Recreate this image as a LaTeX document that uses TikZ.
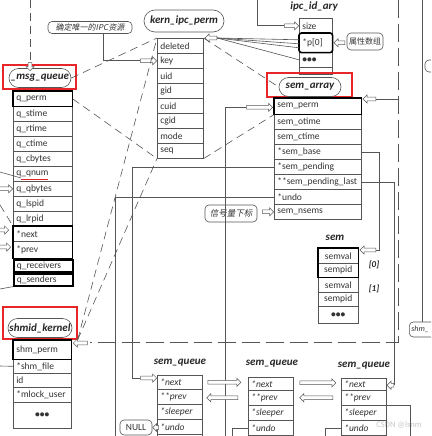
\documentclass[tikz,border=0pt]{standalone}
\usepackage{fontspec}
\setmainfont{Carlito}
\newfontfamily\cjk{Noto Sans CJK SC}
\newfontfamily\cjkit[FakeSlant=0.2]{Noto Sans CJK SC}
\usetikzlibrary{shapes.arrows,shapes.misc,calc}
\definecolor{linec}{HTML}{555555}
\definecolor{txtc}{HTML}{333333}
\definecolor{redc}{HTML}{E8262A}
\definecolor{wmc}{HTML}{C8C8C8}
\newcommand\rowfnt{\fontsize{9.5}{11}\selectfont}
\newcommand\labfnt{\fontsize{11}{12}\selectfont\bfseries\itshape}
\begin{document}
\begin{tikzpicture}[x=1pt,y=-1pt,line width=0.6pt,draw=linec,
  rowb/.style={draw=linec,anchor=north west,inner xsep=3pt,inner ysep=0pt,minimum height=15pt,align=left,text=txtc,font=\rowfnt},
  mq/.style={rowb,text width=53pt},
  kp/.style={rowb,text width=40pt},
  ia/.style={rowb,text width=27pt},
  sa/.style={rowb,text width=81pt},
  se/.style={rowb,text width=34pt,align=center},
  sk/.style={rowb,text width=52pt},
  sq/.style={rowb,text width=39pt,font=\rowfnt\itshape},
  thickb/.style={draw=black,line width=1.6pt},
  redbox/.style={draw=redc,line width=1.2pt},
  cloudl/.style={rounded rectangle,draw=linec,font=\labfnt,text=black!85,inner sep=1pt,minimum height=19pt},
  plainl/.style={font=\labfnt,text=black!85,inner sep=0pt},
  callout/.style={draw=linec,rounded corners=4pt,inner sep=1pt,text=txtc},
  harr/.style={single arrow,draw=linec,fill=white,inner xsep=0pt,inner ysep=1.6pt,single arrow head extend=2.2pt,single arrow tip angle=90,minimum height=#1,line width=0.5pt},
  dsh/.style={dash pattern=on 8pt off 5pt},
  bigdash/.style={dash pattern=on 18pt off 6pt,line width=0.8pt}
]
\clip (0,0) rectangle (431,436);
\fill[white] (0,0) rectangle (431,436);

% ---------- long connectors (drawn first) ----------
\draw[bigdash] (398,0) -- (398,342) -- (90,342);
\coordinate (rt) at (422,0);
\coordinate (ub) at (115,436);
\coordinate (vb) at (225,436);
\node[text=wmc,font=\fontsize{8.5}{9}\selectfont,inner sep=0pt] (wm) at (399,425) {CSDN @lsnm};

% ---------- msg_queue ----------
\draw[redbox] (3,65) rectangle (76,89);
\node[cloudl,minimum width=64pt] (mqc) at (40,78) {\_msg\_queue};
\foreach \lbl [count=\i from 0] in {q\_perm,q\_stime,q\_rtime,q\_ctime,q\_cbytes,q\_qnum,q\_qbytes,q\_lspid,q\_lrpid}
  \node[mq] (mq\i) at (13,{91+15*\i}) {\lbl};
\node[mq] (mq9) at (13,226) {*next};
\node[mq,minimum height=17pt] (mq10) at (13,241) {*prev};
\node[mq,minimum height=12pt,thickb] (mq11) at (13,259) {q\_receivers};
\node[mq,minimum height=12pt,thickb] (mq12) at (13,273) {q\_senders};
\draw[thickb] (mq0.north west) rectangle (mq0.south east);
\draw[thickb] (mq9.north west) rectangle (mq10.south east);
\draw[redc,line width=0.8pt] (21,179) -- (48,179);

% ---------- kern_ipc_perm ----------
\node[cloudl,minimum width=82pt,minimum height=22pt] (kc) at (184,21) {kern\_ipc\_perm};
\foreach \lbl [count=\i from 0] in {deleted,key,uid,gid,cuid,cgid,mode,seq}
  \node[kp] (kp\i) at (157,{38+15*\i}) {\lbl};

% ---------- ipc_id_ary ----------
\node[plainl] (ial) at (314,7) {ipc\_id\_ary};
\node[ia] (ia0) at (299,18) {size};
\node[ia,minimum height=19pt] (ia1) at (299,33) {*p[0]};
\node[ia] (ia2) at (299,52) {\textbf{\textbullet\textbullet\textbullet}};
\node[ia,minimum height=7pt] (ia3) at (299,67) {};
\draw[thickb,rounded corners=2.5pt] (ia1.north west) rectangle (ia1.south east);
\node[callout,minimum width=36pt,minimum height=17pt,font=\cjk\fontsize{8}{9}\selectfont] (sx) at (365,41.5) {属性数组};

% ---------- sem_array ----------
\draw[redbox] (267,73) rectangle (352,97);
\node[cloudl,minimum width=64pt] (sac) at (310,87) {sem\_array};
\node[sa,minimum height=16pt] (sa0) at (274,98) {sem\_perm};
\foreach \lbl [count=\i from 1] in {sem\_otime,sem\_ctime,*sem\_base,*sem\_pending,**sem\_pending\_last,*undo,sem\_nsems}
  \node[sa] (sa\i) at (274,{99+15*\i}) {\lbl};
\draw[thickb] (sa0.north west) rectangle (sa0.south east);

% ---------- sem ----------
\node[plainl] (seml) at (335,238) {sem};
\node[se] (se0) at (318,248) {semval};
\node[se,minimum height=14pt] (se1) at (318,263) {sempid};
\node[se] (se2) at (318,277) {semval};
\node[se,minimum height=14pt] (se3) at (318,292) {sempid};
\node[se,minimum height=17pt] (se4) at (318,306) {\textbf{\textbullet\textbullet\textbullet}};
\draw[thickb] (se0.north west) rectangle (se1.south east);
\node[plainl,font=\fontsize{9}{10}\selectfont\bfseries\itshape] (i0) at (374,265) {[0]};
\node[plainl,font=\fontsize{9}{10}\selectfont\bfseries\itshape] (i1) at (374,289) {[1]};

% ---------- shmid_kernel ----------
\draw[redbox] (3,307) rectangle (77,339);
\node[cloudl,minimum width=66pt] (skc) at (40,328) {shmid\_kernel};
\node[sk,minimum height=19pt] (sk0) at (13,340) {shm\_perm};
\node[sk,minimum height=14pt] (sk1) at (13,359) {*shm\_file};
\node[sk,minimum height=14pt] (sk2) at (13,373) {id};
\node[sk] (sk3) at (13,387) {*mlock\_user};
\node[sk,minimum height=26pt,align=center] (sk4) at (13,402) {\textbf{\textbullet\textbullet\textbullet}};
\draw[thickb] (sk0.north west) rectangle (sk0.south east);

% ---------- sem_queue x3 ----------
\node[plainl] (q1l) at (180,363) {sem\_queue};
\node[plainl] (q2l) at (272,364) {sem\_queue};
\node[plainl] (q3l) at (364,366) {sem\_queue};
\node[sq,minimum height=14pt] (qa0) at (157,375) {*next};
\node[sq] (qa1) at (157,389) {**prev};
\node[sq] (qa2) at (157,404) {*sleeper};
\node[sq] (qa3) at (157,419) {*undo};
\node[sq] (qa4) at (157,434) {};
\node[sq,minimum height=13pt] (qb0) at (248,377) {*next};
\node[sq] (qb1) at (248,390) {**prev};
\node[sq] (qb2) at (248,405) {*sleeper};
\node[sq] (qb3) at (248,420) {*undo};
\node[sq] (qb4) at (248,435) {};
\node[sq,minimum height=12pt] (qc0) at (341,378) {*next};
\node[sq] (qc1) at (341,390) {**prev};
\node[sq] (qc2) at (341,405) {*sleeper};
\node[sq] (qc3) at (341,420) {*undo};
\node[sq] (qc4) at (341,435) {};

% ---------- callouts ----------
\node[callout,minimum width=84pt,minimum height=12pt,font=\cjkit\fontsize{8}{8.5}\selectfont] (qd) at (90,27.5) {确定唯一的IPC资源};
\node[callout,minimum width=52pt,minimum height=17pt,font=\cjkit\fontsize{8.5}{9}\selectfont] (xb) at (231,213.5) {信号量下标};
\node[callout,minimum width=32pt,minimum height=15pt,font=\rowfnt] (nul) at (136,427.5) {NULL};
\node[callout,anchor=west,minimum width=35pt,minimum height=15pt,inner xsep=1.5pt,font=\fontsize{8}{9}\selectfont\itshape,align=left,text width=31pt] (sh) at (409,329.5) {shm\_};
\node[callout,minimum width=16pt,minimum height=12pt] (rb) at (433,66) {};

% ---------- connectors ----------
\coordinate (t1) at (30,0);
\node[harr=8pt,rotate=-90,anchor=tip] (ta) at (30,71) {};
\draw[dsh] (t1) -- (ta.tail);
\node[harr=16pt,anchor=tip] (ka) at (kp1.west) {};
\draw ($(qd.south)+(13,0)$) |- (ka.tail);
\coordinate (t2) at (257,0);
\node[harr=14pt,anchor=tip] (sza) at (ia0.west) {};
\draw (t2) |- (sza.tail);
\node[harr=12pt,rotate=180,anchor=tip] (pa) at ($(kp0.north east)+(1,0)$) {};
\draw (pa.tail) -- ($(ia1.west)+(0,-3)$);
\draw (pa.tail) -- ($(ia1.west)+(0,1)$);
\draw (pa.tail) -- ($(ia1.west)+(0,5)$);
\draw (pa.tail) -- (ia2.west);
\node[harr=11pt,rotate=180,anchor=tip] (sxa) at ($(ia1.east)+(1,0)$) {};
\draw[dsh] (mqc.east) -- (kp0.north west);
\draw[dsh] (mq0.east) -- (kp7.south west);
\draw[dsh] (kp0.north east) -- (sac.west);
\draw[dsh] (kp7.south east) -- (sa0.south west);
\draw[dsh] ($(sk0.north east)+(6,0)$) -- (kp0.north west);
\draw[dsh] ($(sk0.north east)+(6,0)$) -- (kp7.south west);
\coordinate (fat) at (73,343);
\node[harr=14pt,rotate=180,anchor=tip] (fa) at (fat) {};
\node[harr=13pt,rotate=180,anchor=tip] (spa) at ($(sa0.north east)+(1,1)$) {};
\draw (398,99) -- (spa.tail);
\node[harr=26pt,anchor=tip] (spl) at ($(sa0.west)+(-1,1)$) {};
\draw (vb) |- (spl.tail);
\node[harr=16pt,anchor=tip] (qna) at ($(qa0.north west)+(0,3)$) {};
\draw (sa4.west) -| ($(qna.tail)+(-8,0)$) -- (qna.tail);
\draw (sa6.west) -| (ub);
\node[harr=11pt,anchor=tip] (xa) at (sa7.west) {};
\node[harr=16pt,rotate=180,anchor=tip] (sba) at ($(se0.north east)+(1,2)$) {};
\draw (sa3.east) -| ($(sba.tail)+(3,0)$) -- (sba.tail);
\node[harr=7pt,rotate=180,anchor=tip] (pla) at ($(qc0.east)+(0,1)$) {};
\draw (sa5.east) -| (pla.tail);
\node[harr=33pt,anchor=tail] (n12) at ($(qa0.east)+(5,0)$) {};
\node[harr=31pt,rotate=180,anchor=tail] (p21) at ($(qb1.west)+(-10,0)$) {};
\node[harr=36pt,anchor=tail] (n23) at ($(qb0.east)+(6,-1)$) {};
\node[harr=33pt,rotate=180,anchor=tail] (p32) at ($(qc1.west)+(-8,0)$) {};
\node[harr=6pt,rotate=180,anchor=tip] (nla) at (nul.east) {};
\draw (qb3.west) -| (232,436);
\draw (qc3.west) -| (325,436);
\draw (qc2.north east) -| (410,436);
\draw (rt) -- (rt |- sh.north);
\node[harr=13pt,anchor=tip] (lq) at (mq6.west) {};
\node[harr=9pt,anchor=tip] (ln) at (9,230) {};
\node[harr=11pt,anchor=tip] (lp) at (11,247) {};
\draw (0,172) -- (21,178);
\draw[dsh] (0,205) -- (13,226);
\draw (0,289) -- (mq12.south west);
\draw (0,366) -- (sk1.west);
\end{tikzpicture}
\end{document}
